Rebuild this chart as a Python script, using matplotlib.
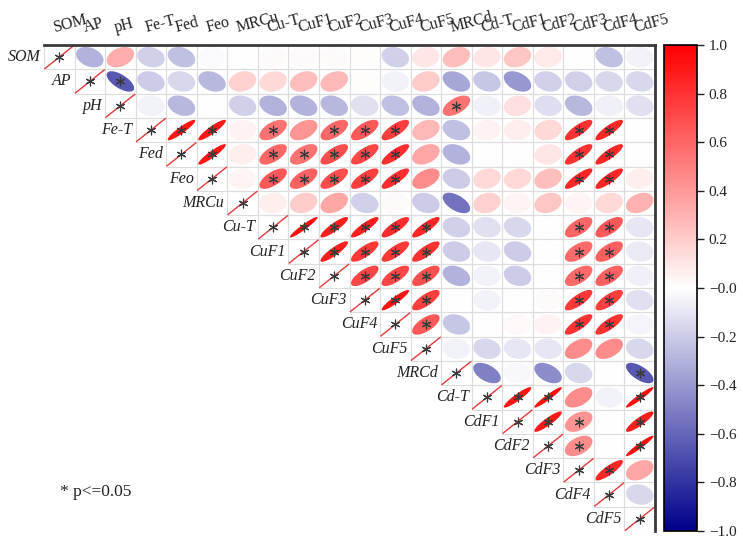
import numpy as np
import matplotlib
matplotlib.use("Agg")
import matplotlib.pyplot as plt
from matplotlib.colors import LinearSegmentedColormap, Normalize
from matplotlib.colorbar import ColorbarBase
from matplotlib.patches import Polygon, Rectangle

plt.rcParams["font.family"] = ["Liberation Serif", "DejaVu Serif"]

names = ["SOM", "AP", "pH", "Fe-T", "Fed", "Feo", "MRCu", "Cu-T", "CuF1", "CuF2",
         "CuF3", "CuF4", "CuF5", "MRCd", "Cd-T", "CdF1", "CdF2", "CdF3", "CdF4", "CdF5"]

# upper triangle, row i holds r with columns i+1 .. end
r_rows = [
    [-0.30, 0.32, -0.18, -0.25, -0.02, 0.00, 0.02, 0.02, 0.02, 0.01, -0.18, 0.10, 0.25, 0.10, 0.22, 0.08, 0.00, -0.25, -0.05],
    [-0.65, -0.20, -0.15, -0.28, 0.18, 0.15, 0.25, 0.28, 0.01, -0.05, 0.20, -0.35, -0.22, -0.40, -0.18, -0.18, -0.15, -0.15],
    [-0.05, -0.28, 0.00, -0.18, -0.30, -0.30, -0.28, -0.12, -0.25, -0.30, 0.55, -0.06, 0.12, -0.13, -0.28, -0.06, -0.12],
    [0.92, 0.90, 0.05, 0.55, 0.42, 0.60, 0.65, 0.75, 0.28, -0.25, 0.05, 0.07, 0.15, 0.80, 0.85, 0.00],
    [0.92, 0.07, 0.60, 0.55, 0.70, 0.72, 0.82, 0.35, -0.30, 0.00, 0.00, 0.10, 0.80, 0.85, 0.00],
    [0.04, 0.65, 0.62, 0.70, 0.75, 0.82, 0.45, -0.20, 0.15, 0.15, 0.25, 0.85, 0.85, 0.07],
    [0.07, 0.20, 0.35, -0.18, 0.02, -0.20, -0.55, 0.18, 0.04, 0.22, 0.04, 0.15, 0.30],
    [0.95, 0.88, 0.88, 0.82, 0.85, -0.18, -0.12, -0.15, 0.00, 0.60, 0.65, -0.10],
    [0.88, 0.78, 0.78, 0.80, -0.20, -0.10, -0.20, 0.00, 0.58, 0.62, -0.08],
    [0.72, 0.72, 0.68, -0.30, -0.05, -0.20, 0.00, 0.58, 0.62, -0.06],
    [0.92, 0.75, 0.00, -0.05, 0.00, 0.02, 0.78, 0.75, -0.12],
    [0.65, -0.22, 0.00, 0.03, 0.05, 0.80, 0.80, -0.04],
    [-0.05, -0.15, -0.10, -0.10, 0.45, 0.45, -0.15],
    [-0.50, -0.03, -0.45, -0.15, 0.00, -0.65],
    [0.92, 0.95, 0.45, -0.05, 0.95],
    [0.90, 0.42, 0.00, 0.88],
    [0.45, 0.00, 0.95],
    [0.85, 0.35],
    [-0.15],
]

# columns with p <= 0.05 for each row
sig_cols = [
    [],
    ["pH"],
    ["MRCd"],
    ["Fed", "Feo", "Cu-T", "CuF2", "CuF3", "CuF4", "CdF3", "CdF4"],
    ["Feo", "Cu-T", "CuF1", "CuF2", "CuF3", "CuF4", "CdF3", "CdF4"],
    ["Cu-T", "CuF1", "CuF2", "CuF3", "CuF4", "CdF3", "CdF4"],
    [],
    ["CuF1", "CuF2", "CuF3", "CuF4", "CuF5", "CdF3", "CdF4"],
    ["CuF2", "CuF3", "CuF4", "CuF5", "CdF3", "CdF4"],
    ["CuF3", "CuF4", "CuF5", "CdF3", "CdF4"],
    ["CuF4", "CuF5", "CdF3", "CdF4"],
    ["CuF5", "CdF3", "CdF4"],
    [],
    ["CdF5"],
    ["CdF1", "CdF2", "CdF5"],
    ["CdF2", "CdF3", "CdF5"],
    ["CdF3", "CdF5"],
    ["CdF4"],
    [],
]

cbar_ticks = [1.0, 0.8, 0.6, 0.4, 0.2, 0.0, -0.2, -0.4, -0.6, -0.8, -1.0]
cbar_labels = ["1.0", "0.8", "0.6", "0.4", "0.2", "\u22120.0", "\u22120.2",
               "\u22120.4", "\u22120.6", "\u22120.8", "\u22121.0"]

n = len(names)
cmap = LinearSegmentedColormap.from_list("corr", ["#00008B", "#FFFFFF", "#FF0000"])
norm = Normalize(-1, 1)
W, H = 743, 539

fig = plt.figure(figsize=(W / 100, H / 100), dpi=100)
ax = fig.add_axes([44 / W, 1 - 531 / H, 611 / W, 486 / H])
ax.set_xlim(-0.5, n - 0.5)
ax.set_ylim(n - 0.5, -0.5)
ax.set_xticks([])
ax.set_yticks([])
for side in ("left", "bottom"):
    ax.spines[side].set_visible(False)
for side in ("top", "right"):
    ax.spines[side].set_color("#3a3a3a")
    ax.spines[side].set_linewidth(2)
    ax.spines[side].set_zorder(5)

t = np.linspace(0, 2 * np.pi, 120)


def ellipse_pts(x0, y0, r, sx=0.45, sy=0.42):
    d = np.arccos(np.clip(r, -1, 1))
    xs = x0 + sx * np.cos(t + d / 2)
    ys = y0 - sy * np.cos(t - d / 2)
    return np.column_stack([xs, ys])


star_x, star_y = [], []
for i in range(n):
    for j in range(i, n):
        ax.add_patch(Rectangle((j - 0.5, i - 0.5), 1, 1, fill=False,
                               ec="#dcdcdc", lw=0.8, zorder=1))
    # diagonal
    ax.plot([i - 0.47, i + 0.47], [i + 0.47, i - 0.47], color="#e43a3c", lw=1, zorder=2)
    star_x.append(i)
    star_y.append(i)
    ax.text(i - 0.6, i, names[i], ha="right", va="center", style="italic",
            fontsize=11.5, color="#222222")
    ax.text(i - 0.15, -1.03, names[i], ha="left", va="baseline", rotation=15,
            rotation_mode="anchor", fontsize=11.5, color="#222222", clip_on=False)

for i, row in enumerate(r_rows):
    for k, r in enumerate(row):
        j = i + 1 + k
        ax.add_patch(Polygon(ellipse_pts(j, i, r), closed=True,
                             fc=cmap(norm(r)), ec="none", zorder=2))
        if names[j] in sig_cols[i]:
            star_x.append(j)
            star_y.append(i)

ax.scatter(star_x, star_y, marker=(6, 2, 0), s=40, color="#3a3a3a",
           linewidths=0.85, zorder=4)

fig.text(60 / W, 1 - 492 / H, "* p<=0.05", ha="left", va="center", fontsize=12.5,
         color="#222222")

cax = fig.add_axes([664 / W, 1 - 531 / H, 33 / W, 486 / H])
cb = ColorbarBase(cax, cmap=cmap, norm=norm, ticks=cbar_ticks)
cb.set_ticklabels(cbar_labels)
cb.outline.set_linewidth(1.2)
cax.tick_params(length=5, width=1, labelsize=11, colors="#222222")

fig.savefig("out.png", dpi=100)
